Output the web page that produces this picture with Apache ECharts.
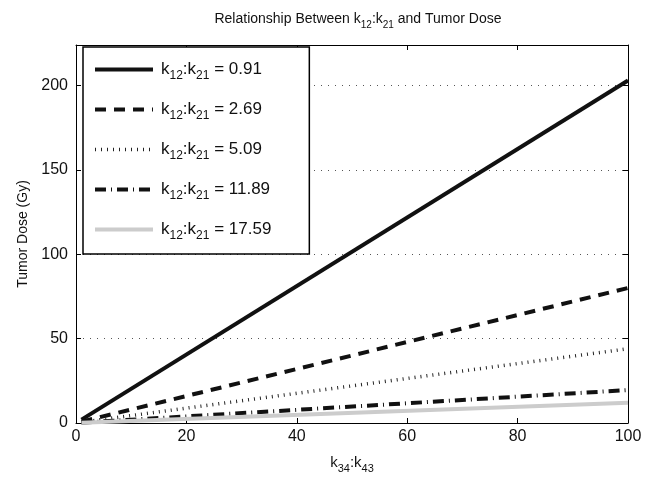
<!DOCTYPE html>
<html>
<head>
<meta charset="utf-8">
<script src="https://cdn.jsdelivr.net/npm/echarts@6/dist/echarts.min.js"></script>
<style>html,body{margin:0;padding:0;background:#fff}#c{width:656px;height:479px}</style>
</head>
<body>
<div id="c"></div>
<script>
// ---- data ----
const xValues = [1, 100];
const ratioLabels = ['0.91', '2.69', '5.09', '11.89', '17.59'];
const dose091 = [2.0, 203];
const dose269 = [0.8, 80];
const dose509 = [0.45, 44];
const dose1189 = [0.2, 19.5];
const dose1759 = [0.12, 12];
const xTicks = [0, 20, 40, 60, 80, 100];
const yTicks = [0, 50, 100, 150, 200];

const FONT = '"Liberation Sans", Arial, Helvetica, sans-serif';
const seriesValues = [dose091, dose269, dose509, dose1189, dose1759];
const styles = [
  { color: '#111', width: 4, type: 'solid' },
  { color: '#111', width: 4, type: [11, 8] },
  { color: '#222', width: 3.5, type: [1, 5] },
  { color: '#111', width: 4, type: [11, 5, 1, 5] },
  { color: '#cccccc', width: 4, type: 'solid' }
];

const series = ratioLabels.map((lab, i) => ({
  name: lab,
  type: 'line',
  symbol: 'none',
  showSymbol: false,
  silent: true,
  animation: false,
  lineStyle: { color: styles[i].color, width: styles[i].width, type: styles[i].type, cap: 'butt' },
  itemStyle: { color: styles[i].color },
  data: xValues.map((x, j) => [x, seriesValues[i][j]])
}));

const legendData = ratioLabels.map((lab, i) => ({
  name: lab,
  itemStyle: { opacity: 0 },
  lineStyle: { color: styles[i].color, width: styles[i].width, type: styles[i].type, cap: 'butt' }
}));

const chart = echarts.init(document.getElementById('c'), null, { renderer: 'canvas' });
const axisCommon = {
  axisLine: { show: true, onZero: false, lineStyle: { color: '#000', width: 1 } },
  axisTick: { show: true, inside: true, length: 5, lineStyle: { color: '#000' } }
};
const normalRich = (big, small) => ({
  n: { fontFamily: FONT, fontSize: big, fontWeight: 'normal', color: '#111', lineHeight: big + 8, verticalAlign: 'middle' },
  s: { fontFamily: FONT, fontSize: small, fontWeight: 'normal', color: '#111', lineHeight: small, verticalAlign: 'bottom' },
  p: { fontFamily: FONT, fontSize: small, width: 3 }
});
chart.setOption({
  animation: false,
  backgroundColor: '#fff',
  textStyle: { fontFamily: FONT },
  title: {
    text: '{n|Relationship Between k}{s|12}{n|:k}{s|21}{n| and Tumor Dose}',
    left: 353, top: 3, textAlign: 'center',
    textStyle: { fontWeight: 'normal', fontSize: 14, rich: normalRich(14, 10) }
  },
  grid: { left: 76, right: 28, top: 45, bottom: 55, containLabel: false },
  legend: {
    orient: 'vertical',
    left: 83, top: 47,
    padding: [14, 38, 12, 10],
    itemGap: 19,
    itemWidth: 58,
    itemHeight: 14,
    backgroundColor: '#fff',
    borderColor: '#000',
    borderWidth: 1.5,
    borderRadius: 0,
    selectedMode: false,
    data: legendData,
    formatter: name => '{p| }{n|k}{s|12}{n|:k}{s|21}{n| = ' + name + '}',
    textStyle: { rich: normalRich(17, 12) }
  },
  xAxis: [
    Object.assign({}, axisCommon, {
      type: 'value', min: 0, max: 100, interval: 20, position: 'bottom',
      name: '{n|k}{s|34}{n|:k}{s|43}', nameLocation: 'middle', nameGap: 28,
      nameTextStyle: { rich: normalRich(15, 11) },
      axisLabel: { fontFamily: FONT, fontSize: 16, color: '#111', margin: 6,
        formatter: v => xTicks.indexOf(v) >= 0 ? String(v) : '' },
      splitLine: { show: false }
    }),
    Object.assign({}, axisCommon, {
      type: 'value', min: 0, max: 100, interval: 20, position: 'top',
      axisLabel: { show: false }, splitLine: { show: false }
    })
  ],
  yAxis: [
    Object.assign({}, axisCommon, {
      type: 'value', min: 0, max: 224, interval: 50, position: 'left',
      name: 'Tumor Dose (Gy)', nameLocation: 'middle', nameGap: 45,
      nameTextStyle: { fontFamily: FONT, fontSize: 14, color: '#111' },
      axisLabel: { fontFamily: FONT, fontSize: 16, color: '#111', margin: 8,
        showMaxLabel: false,
        formatter: v => yTicks.indexOf(v) >= 0 ? String(v) : '' },
      splitLine: { show: true, lineStyle: { color: '#555', width: 1, type: [1, 6] } }
    }),
    Object.assign({}, axisCommon, {
      type: 'value', min: 0, max: 224, interval: 50, position: 'right',
      axisLabel: { show: false }, splitLine: { show: false }
    })
  ],
  series: series
});
</script>
</body>
</html>
